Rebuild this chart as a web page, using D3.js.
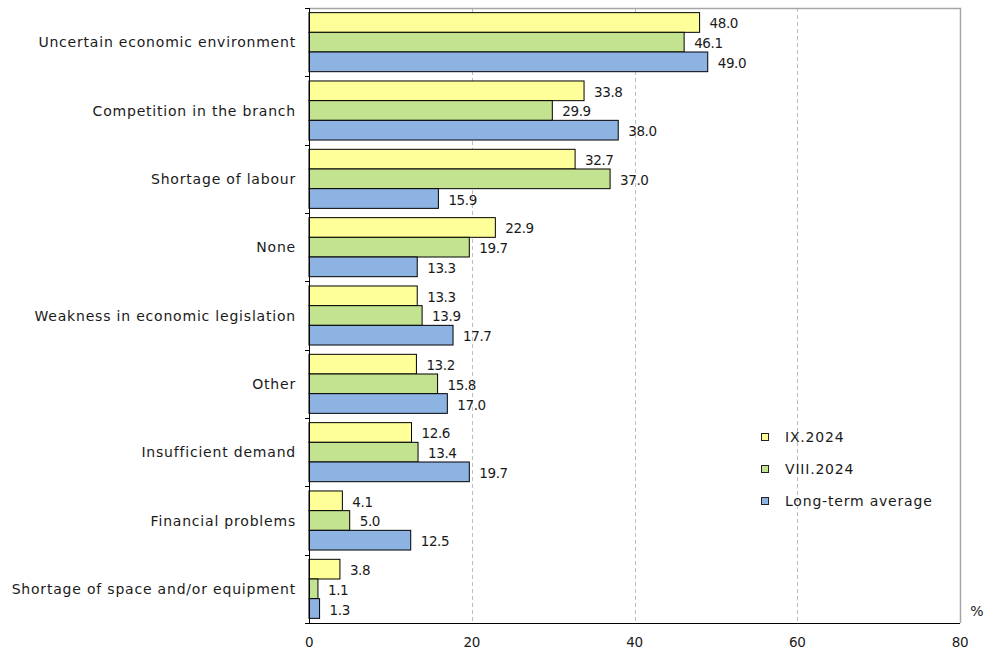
<!DOCTYPE html>
<html>
<head>
<meta charset="utf-8">
<script src="https://cdn.jsdelivr.net/npm/d3@7"></script>
<style>
  html, body { margin: 0; padding: 0; background: #fff; }
  svg { display: block; font-family: "DejaVu Sans", Verdana, sans-serif; }
</style>
</head>
<body>
<div id="chart"></div>
<script>
// data ----------------------------------------------------------------------
const categories = [
  'Uncertain economic environment',
  'Competition in the branch',
  'Shortage of labour',
  'None',
  'Weakness in economic legislation',
  'Other',
  'Insufficient demand',
  'Financial problems',
  'Shortage of space and/or equipment'
];
const seriesNames = ['IX.2024', 'VIII.2024', 'Long-term average'];
const ix2024 = [48.0, 33.8, 32.7, 22.9, 13.3, 13.2, 12.6, 4.1, 3.8];
const viii2024 = [46.1, 29.9, 37.0, 19.7, 13.9, 15.8, 13.4, 5.0, 1.1];
const longTerm = [49.0, 38.0, 15.9, 13.3, 17.7, 17.0, 19.7, 12.5, 1.3];
const xTicks = [0, 20, 40, 60, 80];
const colors = ['#ffff99', '#c4e391', '#8db3e2'];

const seriesValues = [ix2024, viii2024, longTerm];
const rows = categories.map((c, i) => ({
  name: c,
  values: seriesNames.map((s, j) => ({series: s, idx: j, value: seriesValues[j][i]}))
}));

// svg -----------------------------------------------------------------------
const width = 993, height = 651;
const svg = d3.select('#chart').append('svg')
  .attr('width', width)
  .attr('height', height);

const plotLeft = 309, plotRight = 960, plotTop = 8, plotBottom = 623;
const textColor = '#1a1a1a';

const x = d3.scaleLinear().domain([0, 80]).range([plotLeft, plotRight]);
const y = d3.scaleBand().domain(categories).range([plotTop, plotBottom])
  .paddingInner(0.136).paddingOuter(0.068);
const ySub = d3.scaleBand().domain(seriesNames).range([0, y.bandwidth()]);
const step = y.step();

// grid ----------------------------------------------------------------------
svg.append('g')
  .selectAll('line')
  .data(xTicks.filter(t => t > 0 && t < 80))
  .enter().append('line')
  .attr('x1', d => Math.round(x(d)) + 0.5)
  .attr('x2', d => Math.round(x(d)) + 0.5)
  .attr('y1', plotTop)
  .attr('y2', plotBottom)
  .attr('stroke', '#bdbdbd')
  .attr('stroke-dasharray', '4,3');

// frame (top + right, grey)
svg.append('path')
  .attr('d', `M${plotLeft},${plotTop + 0.5}H${x(80) + 0.5}V${plotBottom}`)
  .attr('fill', 'none')
  .attr('stroke', '#a6a6a6')
  .attr('stroke-width', 1.5);

// bars ----------------------------------------------------------------------
const g = svg.append('g')
  .selectAll('g')
  .data(rows)
  .enter().append('g')
  .attr('transform', d => 'translate(0,' + y(d.name) + ')');

g.selectAll('rect')
  .data(d => d.values)
  .enter().append('rect')
  .attr('x', x(0))
  .attr('y', d => ySub(d.series))
  .attr('width', d => x(d.value) - x(0))
  .attr('height', ySub.bandwidth())
  .attr('fill', d => colors[d.idx])
  .attr('stroke', '#000')
  .attr('stroke-width', 1);

g.selectAll('text.val')
  .data(d => d.values)
  .enter().append('text')
  .attr('class', 'val')
  .attr('x', d => x(d.value) + 10)
  .attr('y', d => ySub(d.series) + ySub.bandwidth() / 2 + 2)
  .attr('dominant-baseline', 'middle')
  .attr('font-size', '13.5px')
  .attr('letter-spacing', '-0.4px')
  .attr('fill', textColor)
  .text(d => d.value.toFixed(1));

// axes ----------------------------------------------------------------------
// y axis line + boundary ticks
svg.append('line')
  .attr('x1', plotLeft + 0.5).attr('x2', plotLeft + 0.5)
  .attr('y1', plotTop).attr('y2', plotBottom)
  .attr('stroke', '#000');
svg.append('g')
  .selectAll('line')
  .data(d3.range(categories.length + 1))
  .enter().append('line')
  .attr('x1', plotLeft - 4).attr('x2', plotLeft)
  .attr('y1', i => Math.round(plotTop + i * step) + 0.5)
  .attr('y2', i => Math.round(plotTop + i * step) + 0.5)
  .attr('stroke', '#000');
// x axis line
svg.append('line')
  .attr('x1', plotLeft - 4).attr('x2', x(80))
  .attr('y1', plotBottom + 0.5).attr('y2', plotBottom + 0.5)
  .attr('stroke', '#000');

svg.append('g')
  .selectAll('text')
  .data(xTicks)
  .enter().append('text')
  .attr('x', d => x(d))
  .attr('y', 643)
  .attr('text-anchor', 'middle')
  .attr('dominant-baseline', 'middle')
  .attr('font-size', '13.5px')
  .attr('letter-spacing', '-0.4px')
  .attr('fill', textColor)
  .text(d => d);

svg.append('text')
  .attr('x', 977).attr('y', 612)
  .attr('text-anchor', 'middle')
  .attr('dominant-baseline', 'middle')
  .attr('font-size', '14px')
  .attr('fill', textColor)
  .text('%');

// category labels
svg.append('g')
  .selectAll('text')
  .data(categories)
  .enter().append('text')
  .attr('x', 296)
  .attr('y', d => y(d) + y.bandwidth() / 2 + 1)
  .attr('text-anchor', 'end')
  .attr('dominant-baseline', 'middle')
  .attr('font-size', '14px')
  .attr('letter-spacing', '0.8px')
  .attr('fill', textColor)
  .text(d => d);

// legend --------------------------------------------------------------------
const legend = svg.append('g')
  .selectAll('g')
  .data(seriesNames)
  .enter().append('g')
  .attr('transform', (d, i) => 'translate(761,' + (437 + i * 32) + ')');
legend.append('rect')
  .attr('x', 0.5).attr('y', -3.5)
  .attr('width', 7).attr('height', 7)
  .attr('fill', (d, i) => colors[i])
  .attr('stroke', '#222');
legend.append('text')
  .attr('x', 24).attr('y', 1)
  .attr('dominant-baseline', 'middle')
  .attr('font-size', '14px')
  .attr('letter-spacing', '0.8px')
  .attr('fill', textColor)
  .text(d => d);
</script>
</body>
</html>
